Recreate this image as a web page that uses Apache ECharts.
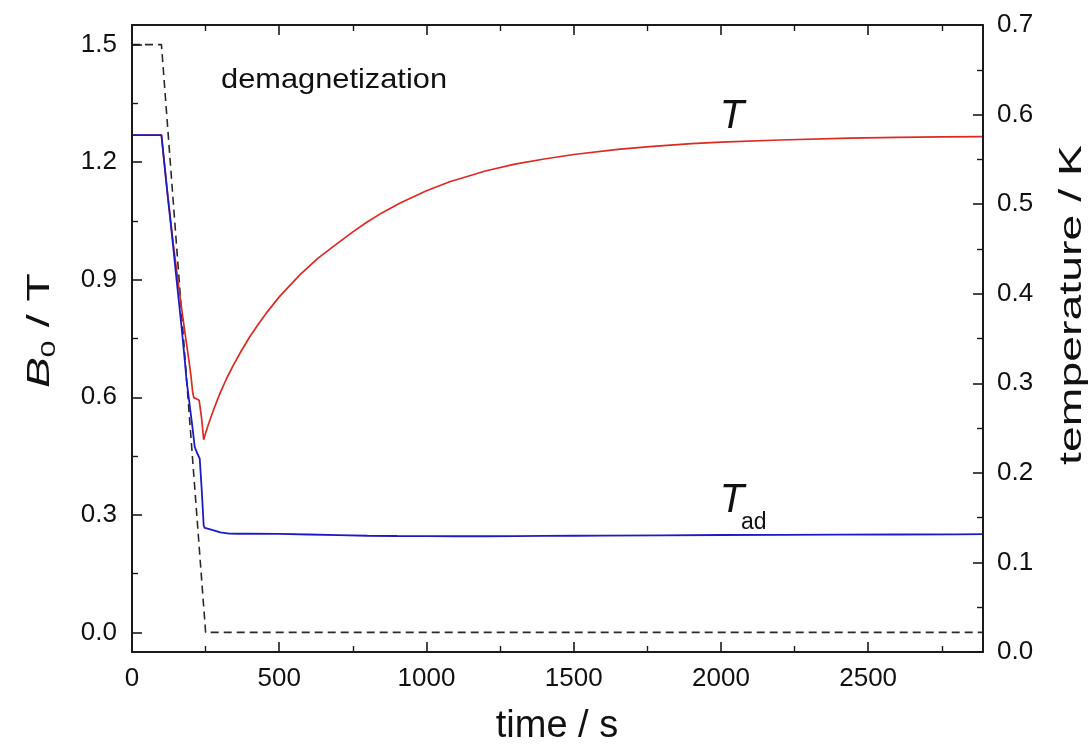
<!DOCTYPE html>
<html>
<head>
<meta charset="utf-8">
<script src="https://cdn.jsdelivr.net/npm/echarts@6/dist/echarts.min.js"></script>
<style>html,body{margin:0;padding:0;background:#fff}#c{width:1091px;height:750px}</style>
</head>
<body>
<div id="c"></div>
<script>
// ---- data ----
const xMin = 0, xMax = 2890;
const xTickValues = [0, 500, 1000, 1500, 2000, 2500];
const xMinorValues = [250, 750, 1250, 1750, 2250, 2750];
const bMin = -0.05, bMax = 1.55;
const bTickValues = [0, 0.3, 0.6, 0.9, 1.2, 1.5];
const bMinorValues = [0.15, 0.45, 0.75, 1.05, 1.35];
const tMin = 0, tMax = 0.7;
const tTickValues = [0, 0.1, 0.2, 0.3, 0.4, 0.5, 0.6, 0.7];
const tMinorValues = [0.05, 0.15, 0.25, 0.35, 0.45, 0.55, 0.65];

// magnetic field B0 (T) vs time (s)
const fieldTime = [0, 100, 250, 2890];
const fieldB = [1.5, 1.5, 0, 0];

// temperature T (K) vs time (s)
const tempTime = [0, 100, 110, 120, 130, 140, 150, 160, 170, 180, 190, 200, 206, 210, 220, 228, 236, 243.5,
  250, 260, 270, 280, 290, 300, 320, 343, 370, 400, 430, 456, 500, 570, 630, 683, 750, 796, 850, 909, 1000, 1079, 1200, 1300, 1400, 1500,
  1650, 1758, 1900, 2000, 2200, 2437, 2600, 2750, 2890];
const tempT = [0.577, 0.577, 0.545, 0.514, 0.485, 0.456, 0.430, 0.404, 0.380, 0.356, 0.333, 0.309, 0.290, 0.284, 0.2825, 0.281, 0.262, 0.237,
  0.2445, 0.2545, 0.2640, 0.2730, 0.2815, 0.2895, 0.3045, 0.3195, 0.3355, 0.3520, 0.3665, 0.3783, 0.3965, 0.421, 0.4392, 0.4526, 0.4690, 0.4795, 0.4905, 0.5010, 0.5150, 0.5250, 0.5370, 0.5446, 0.5504, 0.5554,
  0.5611, 0.5642, 0.5675, 0.5693, 0.5716, 0.5736, 0.5745, 0.5750, 0.5753];

// adiabatic temperature T_ad (K) vs time (s)
const adTime = [0, 100, 110, 120, 130, 140, 150, 160, 170, 180, 185, 195, 205, 213, 220, 230, 237, 243.5, 247,
  260, 280, 300, 330, 360, 400, 500, 600, 700, 800, 900, 1000, 1100, 1200, 1300, 1400, 1500, 1600, 1800,
  2000, 2200, 2400, 2600, 2800, 2890];
const adT = [0.577, 0.577, 0.545, 0.513, 0.483, 0.452, 0.420, 0.389, 0.357, 0.323, 0.304, 0.278, 0.252, 0.229, 0.223, 0.216, 0.180, 0.141, 0.1385,
  0.1375, 0.1355, 0.1335, 0.1322, 0.132, 0.1322, 0.1318, 0.1312, 0.1305, 0.1298, 0.1295, 0.1293, 0.1292, 0.1292, 0.1294, 0.1296, 0.1298, 0.13, 0.1303,
  0.1306, 0.1308, 0.131, 0.1312, 0.1314, 0.1315];

// ---- chart ----
const FONT = 'Liberation Sans, Arial, Helvetica, sans-serif';
const INK = '#1a1a1a';
const zip = (a, b) => a.map((v, i) => [v, b[i]]);

function majorAxis(pos, min, max, ticks, label) {
  return {
    type: 'value', position: pos, min: min, max: max,
    axisLine: { show: true, onZero: false, lineStyle: { color: INK, width: 2 } },
    axisTick: { show: true, inside: true, length: 10, customValues: ticks, lineStyle: { color: INK, width: 1.6 } },
    splitLine: { show: false },
    axisLabel: label ? Object.assign({ show: true, fontSize: 26, color: '#111', fontFamily: FONT, customValues: ticks }, label) : { show: false },
    z: 5
  };
}
function minorAxis(pos, min, max, ticks) {
  return {
    type: 'value', position: pos, min: min, max: max,
    axisLine: { show: false, onZero: false },
    axisTick: { show: true, inside: true, length: 6, customValues: ticks, lineStyle: { color: INK, width: 1.4 } },
    splitLine: { show: false },
    axisLabel: { show: false },
    z: 5
  };
}
const fmt1 = v => (+v).toFixed(1);

const option = {
  animation: false,
  backgroundColor: '#ffffff',
  grid: { left: 132, right: 108, top: 25, bottom: 98, containLabel: false },
  xAxis: [
    majorAxis('bottom', xMin, xMax, xTickValues, { margin: 14, formatter: v => String(v) }),
    majorAxis('top', xMin, xMax, xTickValues, null),
    minorAxis('bottom', xMin, xMax, xMinorValues),
    minorAxis('top', xMin, xMax, xMinorValues)
  ],
  yAxis: [
    majorAxis('left', bMin, bMax, bTickValues, { margin: 15, formatter: fmt1 }),
    majorAxis('right', tMin, tMax, tTickValues, { margin: 14, formatter: fmt1 }),
    minorAxis('left', bMin, bMax, bMinorValues),
    minorAxis('right', tMin, tMax, tMinorValues)
  ],
  series: [
    { name: 'B0', type: 'line', xAxisIndex: 0, yAxisIndex: 0, data: zip(fieldTime, fieldB),
      showSymbol: false, symbol: 'none', z: 2,
      lineStyle: { color: '#2a2a2a', width: 1.6, type: [8, 5] } },
    { name: 'T', type: 'line', xAxisIndex: 0, yAxisIndex: 1, data: zip(tempTime, tempT),
      showSymbol: false, symbol: 'none', z: 3,
      lineStyle: { color: '#dc2a22', width: 1.7 } },
    { name: 'Tad', type: 'line', xAxisIndex: 0, yAxisIndex: 1, data: zip(adTime, adT),
      showSymbol: false, symbol: 'none', z: 4,
      lineStyle: { color: '#1c1cc4', width: 1.8 } }
  ],
  graphic: [
    { type: 'text', x: 221, y: 80, scaleX: 1.1, z: 10,
      style: { text: 'demagnetization', fontSize: 28, fontFamily: FONT, fill: '#111', align: 'left', verticalAlign: 'middle' } },
    { type: 'text', x: 732, y: 117, z: 10,
      style: { text: 'T', fontSize: 40, fontStyle: 'italic', fontFamily: FONT, fill: '#111', align: 'center', verticalAlign: 'middle' } },
    { type: 'text', x: 732, y: 501, z: 10,
      style: { text: 'T', fontSize: 40, fontStyle: 'italic', fontFamily: FONT, fill: '#111', align: 'center', verticalAlign: 'middle' } },
    { type: 'text', x: 741, y: 523, z: 10,
      style: { text: 'ad', fontSize: 23, fontFamily: FONT, fill: '#111', align: 'left', verticalAlign: 'middle' } },
    { type: 'text', x: 557, y: 727, z: 10,
      style: { text: 'time / s', fontSize: 38, fontFamily: FONT, fill: '#111', align: 'center', verticalAlign: 'middle' } },
    { type: 'text', x: 1072, y: 305, rotation: Math.PI / 2, scaleX: 1.45, z: 10,
      style: { text: 'temperature / K', fontSize: 32, fontFamily: FONT, fill: '#111', align: 'center', verticalAlign: 'middle' } },
    { type: 'group', x: 40, y: 330, rotation: Math.PI / 2, scaleX: 1.45, z: 10,
      children: [
        { type: 'text', x: -40, y: 0,
          style: { text: 'B', fontSize: 32, fontStyle: 'italic', fontFamily: FONT, fill: '#111', align: 'left', verticalAlign: 'middle' } },
        { type: 'text', x: -19, y: 9,
          style: { text: '0', fontSize: 21, fontFamily: FONT, fill: '#111', align: 'left', verticalAlign: 'middle' } },
        { type: 'text', x: -7, y: 0,
          style: { text: ' / T', fontSize: 32, fontFamily: FONT, fill: '#111', align: 'left', verticalAlign: 'middle' } }
      ] }
  ]
};

const chart = echarts.init(document.getElementById('c'), null, { renderer: 'canvas' });
chart.setOption(option);
</script>
</body>
</html>
